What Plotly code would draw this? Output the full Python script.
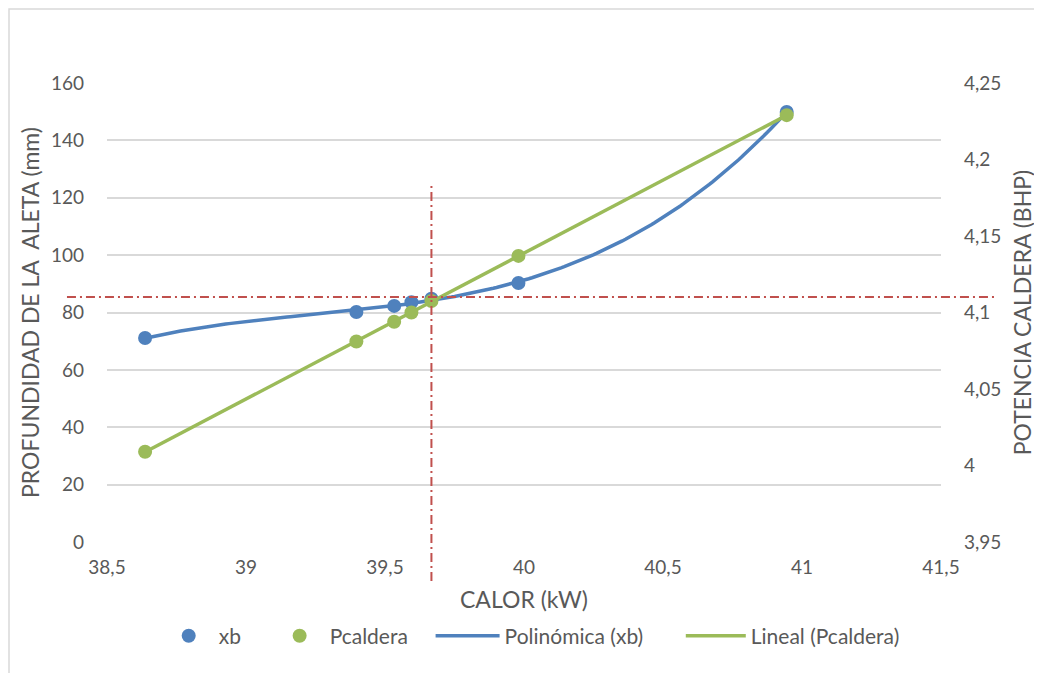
import numpy as np
import plotly.graph_objects as go

# ---- data ----
calor = [38.637, 39.397, 39.533, 39.595, 39.667, 39.98, 40.945]
xb = [71.1, 80.2, 82.3, 83.6, 84.8, 90.3, 149.9]
pcaldera = [4.009, 4.081, 4.094, 4.100, 4.1075, 4.137, 4.229]

x_ticks = [38.5, 39, 39.5, 40, 40.5, 41, 41.5]
x_ticktext = ["38,5", "39", "39,5", "40", "40,5", "41", "41,5"]
y1_ticks = [0, 20, 40, 60, 80, 100, 120, 140, 160]
y1_ticktext = ["0", "20", "40", "60", "80", "100", "120", "140", "160"]
y2_ticks = [3.95, 4.0, 4.05, 4.1, 4.15, 4.2, 4.25]
y2_ticktext = ["3,95", "4", "4,05", "4,1", "4,15", "4,2", "4,25"]

ref_calor = 39.667      # vertical reference line (kW)
ref_xb = 85.4           # horizontal reference line (mm)

# ---- trendlines (fitted from the data, as the spreadsheet does) ----
xs = np.linspace(min(calor), max(calor), 200)
poly = np.polyfit(calor, xb, 3)
lin = np.polyfit(calor, pcaldera, 1)

BLUE = "#4F81BD"
GREEN = "#9BBB59"
RED = "#C0504D"
GRID = "#D9D9D9"
TXT = "#595959"
FONT = "Lato"

fig = go.Figure()
fig.add_trace(go.Scatter(x=xs, y=np.polyval(poly, xs), mode="lines",
                         line=dict(color=BLUE, width=3.5), name="Polinómica (xb)",
                         legend="legend3", yaxis="y"))
fig.add_trace(go.Scatter(x=calor, y=xb, mode="markers",
                         marker=dict(color=BLUE, size=14), name="xb",
                         legend="legend", yaxis="y"))
fig.add_trace(go.Scatter(x=[min(calor), max(calor)],
                         y=np.polyval(lin, [min(calor), max(calor)]), mode="lines",
                         line=dict(color=GREEN, width=3.5), name="Lineal (Pcaldera)",
                         legend="legend4", yaxis="y2"))
fig.add_trace(go.Scatter(x=calor, y=pcaldera, mode="markers",
                         marker=dict(color=GREEN, size=14), name="Pcaldera",
                         legend="legend2", yaxis="y2"))

DASH = "9px,4px,2px,4px"
fig.add_shape(type="line", xref="paper", yref="y", x0=-0.048, x1=1.068,
              y0=ref_xb, y1=ref_xb, line=dict(color=RED, width=2, dash=DASH))
fig.add_shape(type="line", xref="x", yref="paper", x0=ref_calor, x1=ref_calor,
              y0=-0.085, y1=0.784, line=dict(color=RED, width=2, dash=DASH))
fig.add_shape(type="rect", xref="paper", yref="paper", x0=-0.1175, x1=1.2,
              y0=-0.4, y1=1.161, line=dict(color=GRID, width=1.5), layer="below")

leg = dict(orientation="h", y=-0.205, yanchor="middle", xanchor="left",
           font=dict(size=21, color=TXT), bgcolor="rgba(0,0,0,0)")

fig.update_layout(
    width=1034, height=665,
    margin=dict(l=99, r=101, t=75, b=131, autoexpand=False),
    paper_bgcolor="white", plot_bgcolor="white",
    font=dict(family=FONT, size=19, color=TXT),
    showlegend=True,
    legend=dict(leg, x=0.062, itemwidth=50),
    legend2=dict(leg, x=0.195, itemwidth=50),
    legend3=dict(leg, x=0.388, itemwidth=64),
    legend4=dict(leg, x=0.688, itemwidth=60),
    xaxis=dict(range=[38.5, 41.5], tickvals=x_ticks, ticktext=x_ticktext,
               showgrid=False, zeroline=False, showline=False, ticks="",
               ticklabelstandoff=12, automargin=False,
               title=dict(text="CALOR (kW)", standoff=14)),
    yaxis=dict(range=[0, 160], tickvals=y1_ticks, ticktext=y1_ticktext,
               showgrid=True, gridcolor=GRID, gridwidth=1.5, zeroline=False,
               showline=False, ticks="", ticklabelstandoff=22, automargin=False,
               title=dict(text="PROFUNDIDAD DE LA  ALETA (mm)", standoff=4)),
    yaxis2=dict(range=[3.95, 4.25], tickvals=y2_ticks, ticktext=y2_ticktext,
                overlaying="y", side="right", showgrid=False, zeroline=False,
                showline=False, ticks="", ticklabelstandoff=22, automargin=False,
                title=dict(text="POTENCIA CALDERA (BHP)", standoff=14)),
)

fig.write_html("out.html")
